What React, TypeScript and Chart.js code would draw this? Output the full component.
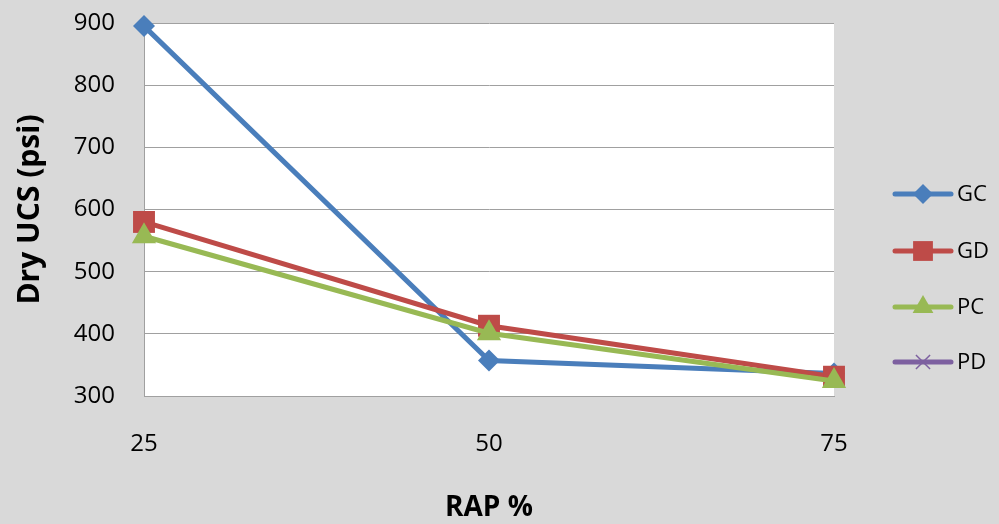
import React, { useEffect, useRef } from "react";
import { Chart, registerables } from "chart.js";

Chart.register(...registerables);

const RAP = [25, 50, 75];
const GC = [895, 357, 336];
const GD = [580, 413, 331];
const PC = [557, 401, 324];
const PD: (number | null)[] = [null, null, null];
const SERIES_NAMES = ["GC", "GD", "PC", "PD"];
const Y_MIN = 300;
const Y_MAX = 900;
const Y_STEP = 100;

const COLORS = ["#4a7ebb", "#be4b48", "#98b954", "#7d60a0"];
const STYLES = ["rectRot", "rect", "triangle", "crossRot"];
const RADII = [11, 15.5, 14, 10];
const FONT = "'Open Sans', 'DejaVu Sans', sans-serif";

function drawMarker(ctx: CanvasRenderingContext2D, style: string, x: number, y: number, r: number, color: string) {
  ctx.save();
  ctx.fillStyle = color;
  ctx.strokeStyle = color;
  ctx.beginPath();
  if (style === "rectRot") {
    ctx.moveTo(x, y - r);
    ctx.lineTo(x + r, y);
    ctx.lineTo(x, y + r);
    ctx.lineTo(x - r, y);
    ctx.closePath();
    ctx.fill();
  } else if (style === "rect") {
    const s = r * Math.SQRT1_2;
    ctx.rect(x - s, y - s, 2 * s, 2 * s);
    ctx.fill();
  } else if (style === "triangle") {
    const h = r * Math.sqrt(3) / 2;
    ctx.moveTo(x, y - r);
    ctx.lineTo(x + h, y + r / 2);
    ctx.lineTo(x - h, y + r / 2);
    ctx.closePath();
    ctx.fill();
  } else {
    ctx.lineWidth = 1.5;
    const s = r * Math.SQRT1_2;
    ctx.moveTo(x - s, y - s);
    ctx.lineTo(x + s, y + s);
    ctx.moveTo(x + s, y - s);
    ctx.lineTo(x - s, y + s);
    ctx.stroke();
  }
  ctx.restore();
}

const bgPlugin = {
  id: "bgPlugin",
  beforeDraw(chart: any) {
    const { ctx, chartArea } = chart;
    ctx.save();
    ctx.fillStyle = "#d9d9d9";
    ctx.fillRect(0, 0, chart.width, chart.height);
    ctx.fillStyle = "#ffffff";
    ctx.fillRect(chartArea.left, chartArea.top, chartArea.right - chartArea.left, chartArea.bottom - chartArea.top);
    ctx.restore();
  },
};

const legendPlugin = {
  id: "customLegend",
  afterDraw(chart: any) {
    const { ctx } = chart;
    const ys = [194, 251, 307, 362];
    SERIES_NAMES.forEach((name, i) => {
      const y = ys[i];
      ctx.save();
      ctx.strokeStyle = COLORS[i];
      ctx.lineWidth = 5;
      ctx.lineCap = "round";
      ctx.beginPath();
      ctx.moveTo(895, y);
      ctx.lineTo(951, y);
      ctx.stroke();
      ctx.restore();
      drawMarker(ctx, STYLES[i], 923, y, i === 1 ? 14 : i === 2 ? 12 : 10, COLORS[i]);
      ctx.save();
      ctx.fillStyle = "#000";
      ctx.font = `22px ${FONT}`;
      ctx.textAlign = "left";
      ctx.textBaseline = "middle";
      ctx.fillText(name, 957, y + 1);
      ctx.restore();
    });
  },
};

export default function App() {
  const ref = useRef<HTMLCanvasElement>(null);
  useEffect(() => {
    document.body.style.margin = "0";
    const seriesData = [GC, GD, PC, PD];
    const chart = new Chart(ref.current!, {
      type: "line",
      data: {
        datasets: SERIES_NAMES.map((name, i) => ({
          label: name,
          data: RAP.map((x, j) => ({ x, y: seriesData[i][j] as any })),
          borderColor: COLORS[i],
          backgroundColor: COLORS[i],
          borderWidth: 5,
          pointStyle: STYLES[i] as any,
          pointRadius: RADII[i],
          pointBorderWidth: i === 3 ? 1.5 : 0,
          pointHoverRadius: RADII[i],
          tension: 0,
          clip: false as any,
          order: 3 - i,
        })),
      },
      options: {
        animation: false,
        responsive: false,
        maintainAspectRatio: false,
        events: [],
        layout: { padding: { top: 23, right: 165, left: 0, bottom: 0 } },
        plugins: { legend: { display: false }, tooltip: { enabled: false } },
        scales: {
          x: {
            type: "linear",
            min: 25,
            max: 75,
            afterFit: (s: any) => { s.height = 128; s.paddingLeft = 0; s.paddingRight = 0; },
            afterBuildTicks: (s: any) => { s.ticks = RAP.map((v) => ({ value: v })); },
            grid: { display: false, drawTicks: false },
            border: { display: true, color: "#a0a0a0", width: 1 },
            ticks: { color: "#000", font: { family: FONT, size: 24 }, padding: 34 },
            title: {
              display: true,
              text: "RAP %",
              color: "#000",
              font: { family: FONT, size: 28, weight: "bold" },
              padding: { top: 0, bottom: -1 },
            },
          },
          y: {
            min: Y_MIN,
            max: Y_MAX,
            afterFit: (s: any) => { s.width = 144; s.paddingTop = 0; s.paddingBottom = 0; },
            ticks: { stepSize: Y_STEP, color: "#000", font: { family: FONT, size: 24 }, padding: 29 },
            grid: { color: "#a0a0a0", lineWidth: 1, drawTicks: false },
            border: { display: true, color: "#a0a0a0", width: 1 },
            title: {
              display: true,
              text: "Dry UCS (psi)",
              color: "#000",
              font: { family: FONT, size: 30, weight: "bold" },
              padding: { top: 12, bottom: 0 },
            },
          },
        },
      },
      plugins: [bgPlugin, legendPlugin],
    });
    return () => chart.destroy();
  }, []);
  return (
    <div style={{ position: "absolute", left: 0, top: 0, width: 999, height: 524 }}>
      <canvas ref={ref} width={999} height={524} style={{ width: 999, height: 524, display: "block" }} />
    </div>
  );
}
